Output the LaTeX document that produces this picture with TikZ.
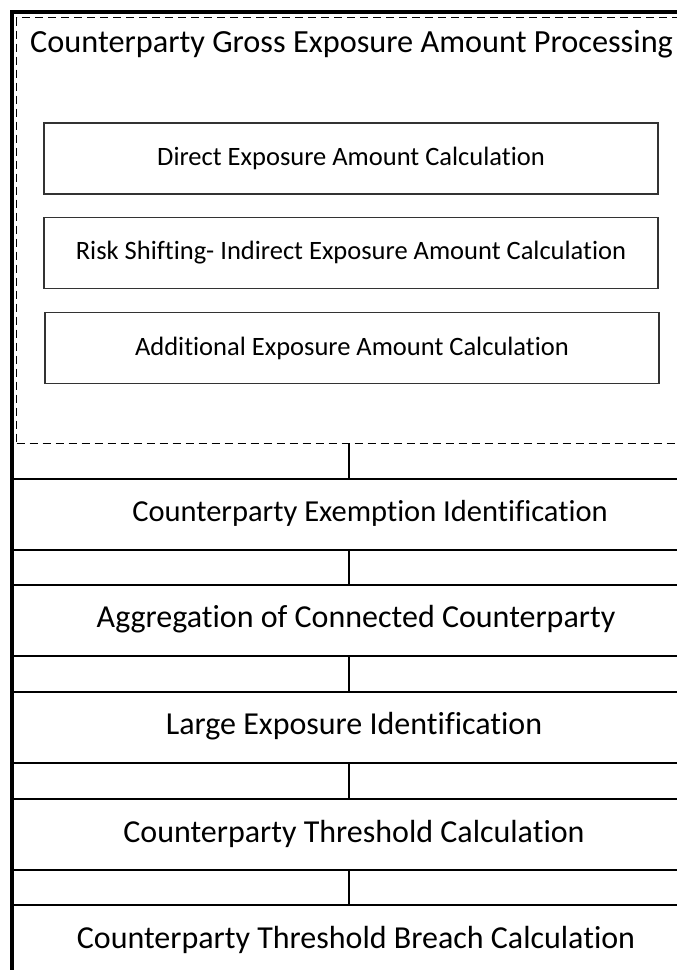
\documentclass[tikz,border=0pt]{standalone}
\usepackage{fontspec}
\setmainfont{Carlito}[Ligatures=NoCommon]
\usetikzlibrary{positioning}
\tikzset{
  frame/.style    = {line width=3.2pt},
  groupbox/.style = {draw, line width=1.4pt, dash pattern=on 8pt off 5pt,
                     rectangle, anchor=north west, inner sep=0pt},
  subbox/.style   = {draw=black!80, line width=1.2pt, rectangle, inner sep=0pt,
                     minimum width=614pt, minimum height=71pt,
                     font=\fontsize{26.5}{31}\selectfont},
  band/.style     = {draw, line width=1.5pt, rectangle, anchor=north west,
                     inner sep=0pt, minimum width=688pt, minimum height=71pt},
  steptext/.style = {inner sep=0pt, font=\fontsize{32}{38}\selectfont},
  link/.style     = {line width=1.5pt},
}

\begin{document}
\begin{tikzpicture}[x=1pt,y=-1pt]
  \useasboundingbox (0,0) rectangle (677,970);

  % ---------------- gross exposure group ---------------------------------
  \node[groupbox,minimum width=684pt,minimum height=426pt] (gross) at (16,17) {};
  \node[anchor=base west,inner sep=0pt,font=\fontsize{32.3}{38}\selectfont]
        (grosstitle) at (30,52) {Counterparty Gross Exposure Amount Processing};
  \node[subbox] (direct)   at (351,158.5) {Direct Exposure Amount Calculation};
  \node[subbox] (indirect) at (351,253)   {Risk Shifting- Indirect Exposure Amount Calculation};
  \node[subbox] (addl)     at (352,348)   {Additional Exposure Amount Calculation};

  % ---------------- processing steps -------------------------------------
  \node[band] (exempt)    at (12,478) {};
  \node[band] (aggr)      at (12,584) {};
  \node[band] (largeexp)  at (12,691) {};
  \node[band] (threshold) at (12,798) {};
  \node[band] (breach)    at (12,904) {};
  \node[steptext,font=\fontsize{30.5}{36}\selectfont]
                  (exemptlbl)    at (370,513.5) {Counterparty Exemption Identification};
  \node[steptext] (aggrlbl)      at (356,619.5) {Aggregation of Connected Counterparty};
  \node[steptext] (largeexplbl)  at (354,726.5) {Large Exposure Identification};
  \node[steptext] (thresholdlbl) at (354,833.5) {Counterparty Threshold Calculation};
  \node[steptext] (breachlbl)    at (356,939.5) {Counterparty Threshold Breach Calculation};

  % ---------------- links between steps ----------------------------------
  \coordinate (spine) at (349,0);
  \draw[link] (gross.south -| spine)     -- (exempt.north -| spine);
  \draw[link] (exempt.south -| spine)    -- (aggr.north -| spine);
  \draw[link] (aggr.south -| spine)      -- (largeexp.north -| spine);
  \draw[link] (largeexp.south -| spine)  -- (threshold.north -| spine);
  \draw[link] (threshold.south -| spine) -- (breach.north -| spine);

  % ---------------- outer frame ------------------------------------------
  \draw[frame] (12,990) -- (12,12) -- (700,12);
\end{tikzpicture}
\end{document}
